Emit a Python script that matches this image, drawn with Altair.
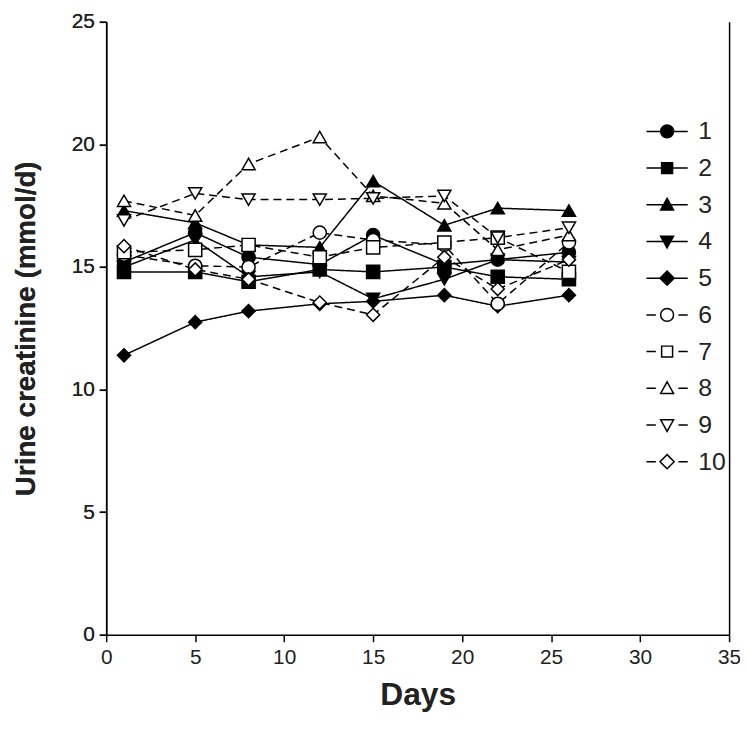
import altair as alt
import pandas as pd

days = [1, 5, 8, 12, 15, 19, 22, 26]
series_names = ["1", "2", "3", "4", "5", "6", "7", "8", "9", "10"]
s1 = [15.2, 16.4, 15.4, 15.1, 16.3, 15.1, 15.3, 15.6]
s2 = [14.8, 14.8, 14.4, 14.9, 14.8, 15.0, 14.6, 14.5]
s3 = [17.3, 16.8, 15.9, 15.8, 18.5, 16.7, 17.4, 17.3]
s4 = [15.0, 16.1, 14.6, 14.8, 13.7, 14.5, 15.3, 15.2]
s5 = [11.4, 12.75, 13.2, 13.5, 13.6, 13.85, 13.4, 13.85]
s6 = [15.5, 15.05, 15.0, 16.4, 16.1, 15.9, 13.5, 16.0]
s7 = [15.6, 15.7, 15.9, 15.4, 15.8, 16.0, 16.2, 14.8]
s8 = [17.7, 17.1, 19.2, 20.3, 17.9, 17.6, 15.7, 16.3]
s9 = [16.9, 18.0, 17.75, 17.75, 17.8, 17.9, 16.2, 16.6]
s10 = [15.85, 14.9, 14.5, 13.55, 13.05, 15.4, 14.1, 15.3]
all_series = [s1, s2, s3, s4, s5, s6, s7, s8, s9, s10]

rows = []
for name, vals in zip(series_names, all_series):
    for d, v in zip(days, vals):
        rows.append({"series": name, "day": d, "value": v, "order": int(name)})
df = pd.DataFrame(rows)

shapes = ["circle", "square", "triangle-up", "triangle-down", "diamond"] * 2
fills = ["black"] * 5 + ["white"] * 5
strokes = ["black"] * 10
dashes = [[1, 0]] * 5 + [[8, 5]] * 5

circ = "M1,0A1,1 0 1,1 -1,0A1,1 0 1,1 1,0Z"
sq = "M-0.85,-0.85H0.85V0.85H-0.85Z"
tu = "M0,-1L1,0.8H-1Z"
td = "M0,1L1,-0.8H-1Z"
dm = "M0,-1.1L1.1,0L0,1.1L-1.1,0Z"
solid = "M-3.2,0H3.2"
dashed = "M-3.2,0H-1.75M1.75,0H3.2"
legend_paths = [solid + m for m in [circ, sq, tu, td, dm]] + [dashed + m for m in [circ, sq, tu, td, dm]]

xs = alt.X("day:Q", scale=alt.Scale(domain=[0, 35], nice=False),
           axis=alt.Axis(values=[0, 5, 10, 15, 20, 25, 30, 35], title="Days", titlePadding=12,
                         labelFlush=False, titleFontSize=32))
ys = alt.Y("value:Q", scale=alt.Scale(domain=[0, 25], nice=False),
           axis=alt.Axis(values=[0, 5, 10, 15, 20, 25], title="Urine creatinine (mmol/d)",
                         titlePadding=31, titleFontSize=28))

lines = alt.Chart(df).mark_line(color="black", strokeWidth=1.5).encode(
    x=xs,
    y=alt.Y("value:Q", scale=alt.Scale(domain=[0, 25], nice=False),
            axis=alt.Axis(orient="right", labels=False, ticks=False, title=None, grid=False)),
    detail="series:N",
    strokeDash=alt.StrokeDash("series:N", scale=alt.Scale(domain=series_names, range=dashes), legend=None),
)

points = alt.Chart(df).mark_point(filled=False, stroke="black", strokeWidth=1.5, size=175, opacity=1).encode(
    x=xs,
    y=ys,
    shape=alt.Shape("series:N", scale=alt.Scale(domain=series_names, range=shapes), legend=None),
    fill=alt.Fill("series:N", scale=alt.Scale(domain=series_names, range=fills), legend=None),
    order="order:Q",
)

legend_props = dict(title=None, orient="none", legendX=553, legendY=98,
                    symbolSize=169, symbolOpacity=1, symbolStrokeColor="black",
                    symbolStrokeWidth=1.5, labelFontSize=25, labelFont="Liberation Sans",
                    labelColor="#222", labelOffset=19, rowPadding=11)

leg = alt.Chart(df).mark_point(filled=False, strokeWidth=1.5, size=0).encode(
    x=xs,
    y=ys,
    shape=alt.Shape("series:N", scale=alt.Scale(domain=series_names, range=legend_paths),
                    legend=alt.Legend(**legend_props)),
    fill=alt.Fill("series:N", scale=alt.Scale(domain=series_names, range=fills),
                  legend=alt.Legend(**legend_props)),
    stroke=alt.Stroke("series:N", scale=alt.Scale(domain=series_names, range=strokes),
                      legend=alt.Legend(**legend_props)),
)

chart = alt.layer(lines, points, leg).resolve_scale(
    shape="independent", fill="independent", strokeDash="independent", stroke="independent"
).resolve_axis(y="independent").properties(
    width=628, height=618,
    autosize=alt.AutoSizeParams(type="none"),
    padding={"left": 99, "top": 11, "right": 11, "bottom": 84},
).configure_view(stroke=None).configure_axis(
    domainColor="black", domainWidth=1.5, tickColor="black", tickWidth=1.5, tickSize=7,
    labelFont="Liberation Sans", labelFontSize=21, labelColor="#222", labelPadding=5,
    titleFont="Liberation Sans", titleFontWeight="bold", titleColor="#222",
    grid=False,
)

chart.save("out.html", embed_options={"renderer": "svg", "actions": False})
